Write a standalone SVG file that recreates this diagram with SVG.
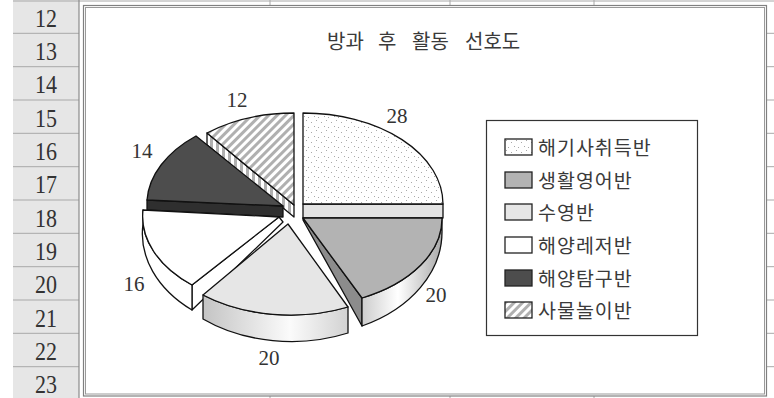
<svg xmlns="http://www.w3.org/2000/svg" width="774" height="398" viewBox="0 0 774 398">
<defs>
<style>
.edge{stroke:#111;stroke-width:1.3;stroke-linejoin:round}
.num{font-family:"Liberation Serif","Times New Roman",serif;fill:#333}
.kr{font-family:"Noto Sans CJK KR","Noto Sans",sans-serif;fill:#3a3a3a}
.grid{stroke:#a8a8a8;stroke-width:1}
.icon{stroke:#222;stroke-width:1.3}
</style>
<pattern id="dots" width="10" height="10" patternUnits="userSpaceOnUse">
<rect width="10" height="10" fill="#fff"/>
<rect x="1" y="2" width="1" height="1" fill="#a8a8a8"/>
<rect x="6" y="0" width="1" height="1" fill="#a8a8a8"/>
<rect x="4" y="6" width="1" height="1" fill="#a8a8a8"/>
<rect x="8" y="7" width="1" height="1" fill="#a8a8a8"/>
</pattern>
<pattern id="diag" width="6" height="6" patternUnits="userSpaceOnUse" patternTransform="rotate(45)">
<rect width="6" height="6" fill="#fff"/>
<rect width="3" height="6" fill="#b0b0b0"/>
</pattern>
<pattern id="vstripe" width="6" height="6" patternUnits="userSpaceOnUse">
<rect width="6" height="6" fill="#fff"/>
<rect width="3" height="6" fill="#b0b0b0"/>
</pattern>
<linearGradient id="gGray" gradientUnits="userSpaceOnUse" x1="362" y1="0" x2="442" y2="0">
<stop offset="0" stop-color="#cdcdcd"/>
<stop offset="0.45" stop-color="#ffffff"/>
<stop offset="1" stop-color="#a9a9a9"/>
</linearGradient>
<linearGradient id="gLight" gradientUnits="userSpaceOnUse" x1="203" y1="0" x2="348" y2="0">
<stop offset="0" stop-color="#c4c4c4"/>
<stop offset="0.6" stop-color="#fbfbfb"/>
<stop offset="1" stop-color="#d2d2d2"/>
</linearGradient>
</defs>

<rect width="774" height="398" fill="#fff"/>

<g id="sheet">
<rect x="13" y="0" width="66" height="398" fill="#e6e6e6"/>
<line class="grid" x1="13" y1="1" x2="774" y2="1"/>
<g class="grid">
<line x1="13" y1="33.3" x2="79" y2="33.3"/><line x1="13" y1="66.7" x2="79" y2="66.7"/>
<line x1="13" y1="100" x2="79" y2="100"/><line x1="13" y1="133.3" x2="79" y2="133.3"/>
<line x1="13" y1="166.7" x2="79" y2="166.7"/><line x1="13" y1="200" x2="79" y2="200"/>
<line x1="13" y1="233.3" x2="79" y2="233.3"/><line x1="13" y1="266.7" x2="79" y2="266.7"/>
<line x1="13" y1="300" x2="79" y2="300"/><line x1="13" y1="333.3" x2="79" y2="333.3"/>
<line x1="13" y1="366.7" x2="79" y2="366.7"/>
<line x1="767" y1="33.3" x2="774" y2="33.3"/><line x1="767" y1="66.7" x2="774" y2="66.7"/>
<line x1="767" y1="100" x2="774" y2="100"/><line x1="767" y1="133.3" x2="774" y2="133.3"/>
<line x1="767" y1="166.7" x2="774" y2="166.7"/><line x1="767" y1="200" x2="774" y2="200"/>
<line x1="767" y1="233.3" x2="774" y2="233.3"/><line x1="767" y1="266.7" x2="774" y2="266.7"/>
<line x1="767" y1="300" x2="774" y2="300"/><line x1="767" y1="333.3" x2="774" y2="333.3"/>
<line x1="767" y1="366.7" x2="774" y2="366.7"/>
<line x1="270" y1="0" x2="270" y2="6"/><line x1="450" y1="0" x2="450" y2="6"/><line x1="594" y1="0" x2="594" y2="6"/>
<line x1="270" y1="396" x2="270" y2="398"/><line x1="450" y1="396" x2="450" y2="398"/><line x1="594" y1="396" x2="594" y2="398"/>
</g>
<line x1="79" y1="0" x2="79" y2="398" stroke="#8a8a8a" stroke-width="1.2"/>
<g class="num" font-size="25" text-anchor="middle">
<text x="46" y="26.7" textLength="22" lengthAdjust="spacingAndGlyphs">12</text>
<text x="46" y="60" textLength="22" lengthAdjust="spacingAndGlyphs">13</text>
<text x="46" y="93.3" textLength="22" lengthAdjust="spacingAndGlyphs">14</text>
<text x="46" y="126.7" textLength="22" lengthAdjust="spacingAndGlyphs">15</text>
<text x="46" y="160" textLength="22" lengthAdjust="spacingAndGlyphs">16</text>
<text x="46" y="193.3" textLength="22" lengthAdjust="spacingAndGlyphs">17</text>
<text x="46" y="226.7" textLength="22" lengthAdjust="spacingAndGlyphs">18</text>
<text x="46" y="260" textLength="22" lengthAdjust="spacingAndGlyphs">19</text>
<text x="46" y="293.3" textLength="22" lengthAdjust="spacingAndGlyphs">20</text>
<text x="46" y="326.7" textLength="22" lengthAdjust="spacingAndGlyphs">21</text>
<text x="46" y="360" textLength="22" lengthAdjust="spacingAndGlyphs">22</text>
<text x="46" y="393.3" textLength="22" lengthAdjust="spacingAndGlyphs">23</text>
</g>
</g>

<g id="chart-frame">
<rect x="83.5" y="5.5" width="683" height="390.5" fill="#fff" stroke="#808080" stroke-width="1.2"/>
<rect x="85.5" y="7.5" width="679" height="386.5" fill="none" stroke="#9a9a9a" stroke-width="1"/>
</g>

<g id="title" class="kr" font-size="20">
<text x="327" y="49">방과</text>
<text x="378" y="49">후</text>
<text x="412" y="49">활동</text>
<text x="465" y="49">선호도</text>
</g>

<g id="slice-samul">
<path class="edge" d="M207,133 L294,205 L294,217 L207,145 Z" fill="url(#vstripe)"/>
<path class="edge" d="M294,205 L207,133 A140,92 0 0 1 294,113 Z" fill="url(#diag)"/>
</g>

<g id="slice-haegisa">
<path class="edge" d="M303,204 L443,204 L443,218 L303,218 Z" fill="#e3e3e3"/>
<path class="edge" d="M303,204 L303,113 A140,91 0 0 1 443,204 Z" fill="url(#dots)"/>
</g>

<g id="slice-tamgu">
<path class="edge" d="M147,200 L283,206 L283,217 L147,210 Z" fill="#2f2f2f"/>
<path class="edge" d="M283,206 L147,200 A140,90 0 0 1 196,136 Z" fill="#4d4d4d"/>
</g>

<g id="slice-english">
<path class="edge" d="M303,218 L362,298 L362,326 L303,220 Z" fill="#8c8c8c"/>
<path class="edge" d="M442,218 L442,232 A140,104 0 0 1 362,326 L362,298 A140,88 0 0 0 442,218 Z" fill="url(#gGray)"/>
<path class="edge" d="M303,218 L442,218 A140,88 0 0 1 362,298 Z" fill="#b3b3b3"/>
</g>

<g id="slice-leisure">
<path class="edge" d="M279,217 L192,285 L192,310 L283,222 Z" fill="#fff"/>
<path class="edge" d="M143,210 L143,224 A140,100 0 0 0 192,310 L192,285 A140,90 0 0 1 143,210 Z" fill="#fff"/>
<path class="edge" d="M279,217 L143,210 A140,90 0 0 0 192,285 Z" fill="#fff"/>
</g>

<g id="slice-swim">
<path class="edge" d="M348,307 L348,333 A140,100 0 0 1 203,319 L203,295 A140,91 0 0 0 348,307 Z" fill="url(#gLight)"/>
<path class="edge" d="M288,224 L348,307 A140,91 0 0 1 203,295 Z" fill="#e6e6e6"/>
</g>

<g id="data-labels" class="num" font-size="21" text-anchor="middle">
<text x="397" y="123">28</text>
<text x="436" y="302">20</text>
<text x="269" y="365">20</text>
<text x="134" y="291">16</text>
<text x="142" y="158">14</text>
<text x="237" y="107">12</text>
</g>

<g id="legend">
<rect x="486.5" y="120.5" width="211" height="215" fill="#fff" stroke="#333" stroke-width="1.2"/>
<rect class="icon" x="505" y="139" width="27" height="16" fill="url(#dots)"/>
<rect class="icon" x="505" y="172" width="27" height="16" fill="#b3b3b3"/>
<rect class="icon" x="505" y="204" width="27" height="16" fill="#e6e6e6"/>
<rect class="icon" x="505" y="237" width="27" height="16" fill="#fff"/>
<rect class="icon" x="505" y="270" width="27" height="16" fill="#4d4d4d"/>
<rect class="icon" x="505" y="302" width="27" height="16" fill="url(#diag)"/>
<g class="kr" font-size="19.5" letter-spacing="1">
<text x="538" y="155">해기사취득반</text>
<text x="538" y="188">생활영어반</text>
<text x="538" y="220">수영반</text>
<text x="538" y="253">해양레저반</text>
<text x="538" y="286">해양탐구반</text>
<text x="538" y="318">사물놀이반</text>
</g>
</g>
</svg>
